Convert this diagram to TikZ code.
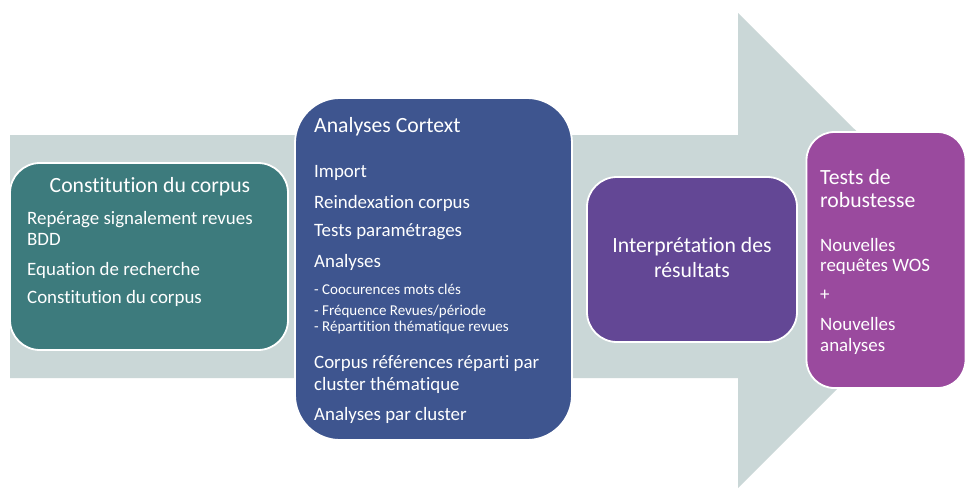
\documentclass[tikz,border=0pt]{standalone}
\usepackage{fontspec}
\setmainfont{Carlito}[Ligatures={NoCommon}]
\definecolor{arrowgray}{HTML}{CAD7D7}
\definecolor{tealbox}{HTML}{3D7B7D}
\definecolor{bluebox}{HTML}{3E558F}
\definecolor{purplebox}{HTML}{634795}
\definecolor{magentabox}{HTML}{9A4A9E}
\begin{document}
\begin{tikzpicture}[x=1pt,y=-1pt,
  box/.style={draw=white,line width=1.8pt,rounded corners=#1,inner sep=0pt},
  box/.default=30pt,
  ttl/.style={text=white,font=\fontsize{21.7}{25}\selectfont,inner sep=0pt},
  txt/.style={text=white,font=\fontsize{18.9}{22}\selectfont,inner sep=0pt,anchor=west},
  sml/.style={text=white,font=\fontsize{15}{17}\selectfont,inner sep=0pt,anchor=west}]
\useasboundingbox (0,0) rectangle (966,491);
\fill[white] (0,0) rectangle (966,491);
% big arrow
\fill[arrowgray] (10,135) -- (738,135) -- (738,13) -- (976,250.5) -- (738,488) -- (738,378) -- (10,378) -- cycle;
% boxes
\node[box=30pt,fill=tealbox,minimum width=278pt,minimum height=187pt] (b1) at (149,256.5) {};
\node[box=45pt,fill=bluebox,minimum width=277pt,minimum height=342pt] (b2) at (433.5,269) {};
\node[box=30pt,fill=purplebox,minimum width=210pt,minimum height=165pt] (b3) at (692,259.5) {};
\node[box=28pt,fill=magentabox,minimum width=159pt,minimum height=256pt] (b4) at (886,260) {};
% box 1 texts
\node[ttl] (t1) at (150,187) {Constitution du corpus};
\node[txt] (t1a) at (27,220) {Repérage signalement revues};
\node[txt] (t1b) at (27,239) {BDD};
\node[txt] (t1c) at (27,270) {Equation de recherche};
\node[txt] (t1d) at (27,298) {Constitution du corpus};
% box 2 texts
\node[ttl,anchor=west] (t2) at (314,127) {Analyses Cortext};
\node[txt] (t2a) at (314,173) {Import};
\node[txt] (t2b) at (314,203) {Reindexation corpus};
\node[txt] (t2c) at (314,232) {Tests paramétrages};
\node[txt] (t2d) at (314,262) {Analyses};
\node[sml] (t2e) at (314,289) {- Coocurences mots clés};
\node[sml] (t2f) at (314,311) {- Fréquence Revues/période};
\node[sml] (t2g) at (314,327) {- Répartition thématique revues};
\node[txt] (t2h) at (314,364) {Corpus références réparti par};
\node[txt] (t2i) at (314,385) {cluster thématique};
\node[txt] (t2j) at (314,415) {Analyses par cluster};
% box 3 texts
\node[ttl] (t3a) at (692,247) {Interprétation des};
\node[ttl] (t3b) at (692,270) {résultats};
% box 4 texts
\node[ttl,anchor=west] (t4a) at (820,177) {Tests de};
\node[ttl,anchor=west] (t4b) at (820,200) {robustesse};
\node[txt] (t4c) at (820,245) {Nouvelles};
\node[txt] (t4d) at (820,267) {requêtes WOS};
\node[txt] (t4e) at (820,295) {+};
\node[txt] (t4f) at (820,324) {Nouvelles};
\node[txt] (t4g) at (820,346) {analyses};
\end{tikzpicture}
\end{document}
